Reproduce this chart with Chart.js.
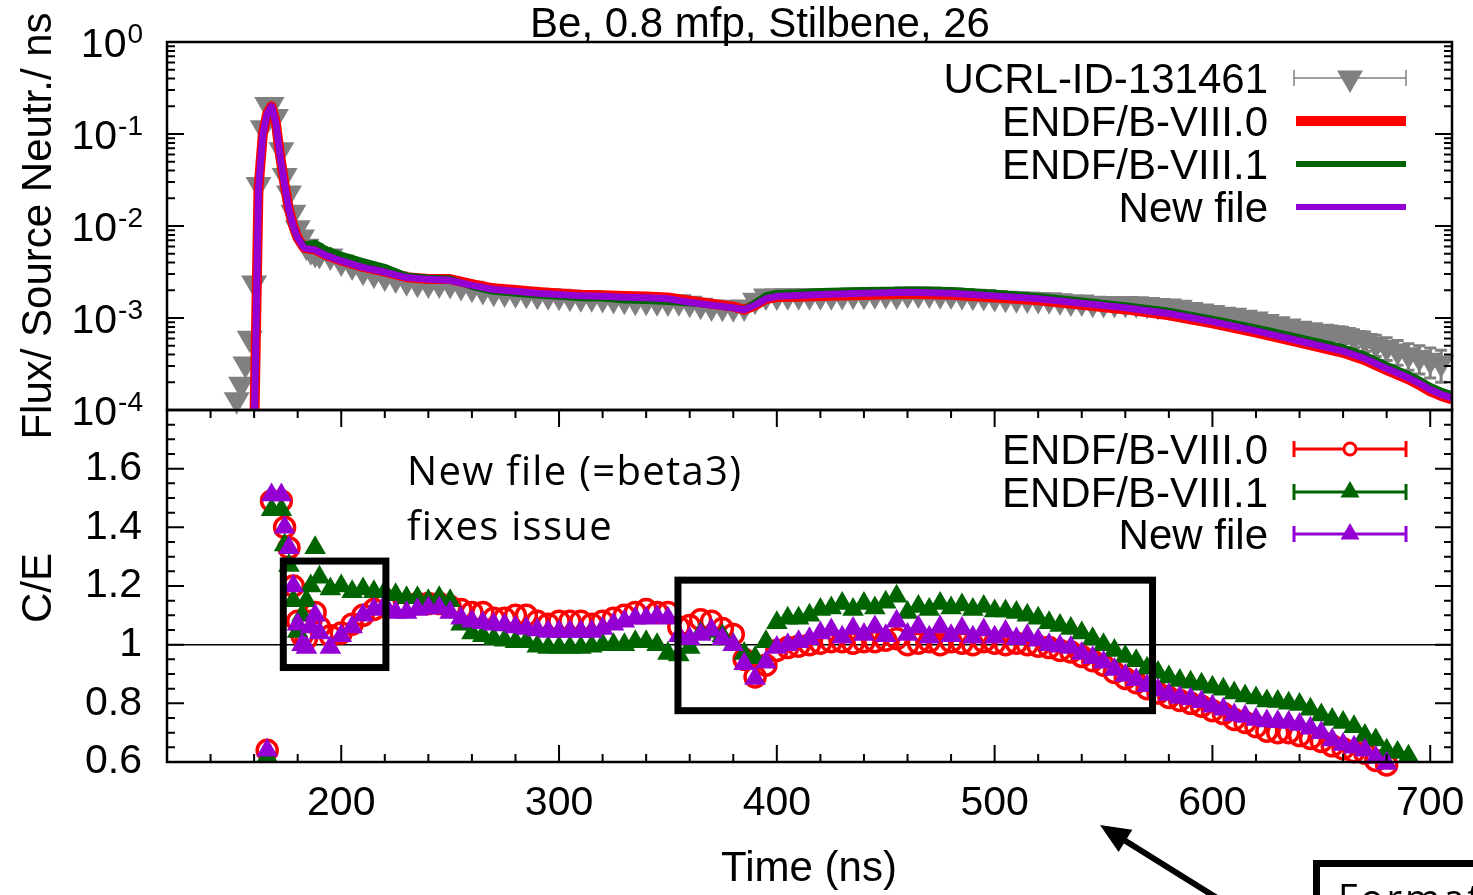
<!DOCTYPE html>
<html>
<head>
<meta charset="utf-8">
<title>Be, 0.8 mfp, Stilbene, 26</title>
<script src="https://cdn.jsdelivr.net/npm/chart.js@4.4.1/dist/chart.umd.min.js"></script>
<style>
  html, body { margin: 0; padding: 0; background: #fff; }
  #page { position: relative; width: 1473px; height: 895px; overflow: hidden; background: #fff; }
  #fluxBox { position: absolute; left: 0; top: 0; width: 1473px; height: 440px; z-index: 2; }
  #ceBox { position: absolute; left: 0; top: 370px; width: 1473px; height: 525px; z-index: 1; }
  .note { position: absolute; z-index: 3; font-family: "Open Sans", Lato, sans-serif; color: #000; white-space: nowrap; }
</style>
</head>
<body>
<div id="page">
  <div id="ceBox"><canvas id="ceChart" width="1473" height="525"></canvas></div>
  <div id="fluxBox"><canvas id="fluxChart" width="1473" height="440"></canvas></div>
  <div class="note" style="left:407px; top:442px; font-size:40px; line-height:55px; letter-spacing:1.3px;">New file (=beta3)<br>fixes issue</div>
  <div class="note" style="left:1338px; top:878px; font-size:38px; line-height:38px; letter-spacing:3px;">Format</div>
</div>
<script>
// time-of-flight bins of the measurement (ns)
const times = [152, 154, 156, 158, 160, 162, 164, 166, 168, 170,
  172.5, 174, 176, 178, 180, 182, 184, 186, 188, 190,
  195, 200, 205, 210, 215, 220, 225, 230, 235, 240,
  245, 250, 255, 260, 265, 270, 275, 280, 285, 290,
  295, 300, 305, 310, 315, 320, 325, 330, 335, 340,
  345, 350, 355, 360, 365, 370, 375, 380, 385, 390,
  395, 400, 405, 410, 415, 420, 425, 430, 435, 440,
  445, 450, 455, 460, 465, 470, 475, 480, 485, 490,
  495, 500, 505, 510, 515, 520, 525, 530, 535, 540,
  545, 550, 555, 560, 565, 570, 575, 580, 585, 590,
  595, 600, 605, 610, 615, 620, 625, 630, 635, 640,
  645, 650, 655, 660, 665, 670, 675, 680, 685, 690,
  695, 700, 705];

// UCRL-ID-131461 measured flux and its relative uncertainty
const expFlux = [1.29e-4, 1.91e-4, 3.16e-4, 6.03e-4, 2.40e-3, 2.82e-2, 1.17e-1, 2.09e-1, 2.09e-1, 1.55e-1,
  6.76e-2, 3.55e-2, 2.29e-2, 1.41e-2, 9.55e-3, 7.59e-3, 6.03e-3, 5.37e-3, 5.01e-3, 4.90e-3,
  4.72e-3, 4.05e-3, 3.67e-3, 3.23e-3, 2.99e-3, 2.79e-3, 2.66e-3, 2.48e-3, 2.38e-3, 2.34e-3,
  2.34e-3, 2.32e-3, 2.20e-3, 2.10e-3, 1.99e-3, 1.91e-3, 1.87e-3, 1.84e-3, 1.81e-3, 1.77e-3,
  1.74e-3, 1.72e-3, 1.68e-3, 1.66e-3, 1.66e-3, 1.63e-3, 1.59e-3, 1.56e-3, 1.52e-3, 1.52e-3,
  1.50e-3, 1.49e-3, 1.50e-3, 1.45e-3, 1.38e-3, 1.32e-3, 1.31e-3, 1.29e-3, 1.32e-3, 1.56e-3,
  1.73e-3, 1.73e-3, 1.74e-3, 1.74e-3, 1.75e-3, 1.75e-3, 1.75e-3, 1.76e-3, 1.78e-3, 1.77e-3,
  1.79e-3, 1.80e-3, 1.77e-3, 1.82e-3, 1.82e-3, 1.82e-3, 1.79e-3, 1.78e-3, 1.76e-3, 1.72e-3,
  1.71e-3, 1.67e-3, 1.64e-3, 1.62e-3, 1.61e-3, 1.59e-3, 1.58e-3, 1.54e-3, 1.49e-3, 1.49e-3,
  1.45e-3, 1.44e-3, 1.44e-3, 1.44e-3, 1.43e-3, 1.40e-3, 1.37e-3, 1.35e-3, 1.31e-3, 1.24e-3,
  1.19e-3, 1.15e-3, 1.10e-3, 1.07e-3, 1.02e-3, 9.73e-4, 9.14e-4, 8.67e-4, 8.20e-4, 7.73e-4,
  7.43e-4, 7.16e-4, 6.93e-4, 6.61e-4, 6.12e-4, 5.68e-4, 5.14e-4, 4.78e-4, 4.37e-4, 3.98e-4,
  3.72e-4, 3.47e-4, 3.24e-4];
const expErr = [0.05, 0.05, 0.05, 0.05, 0.05, 0.05, 0.05, 0.05, 0.05, 0.05,
  0.05, 0.05, 0.05, 0.05, 0.05, 0.05, 0.05, 0.05, 0.05, 0.05,
  0.04, 0.04, 0.04, 0.04, 0.04, 0.04, 0.04, 0.04, 0.04, 0.04,
  0.04, 0.04, 0.04, 0.04, 0.04, 0.04, 0.04, 0.04, 0.04, 0.04,
  0.04, 0.04, 0.04, 0.04, 0.04, 0.04, 0.04, 0.04, 0.04, 0.04,
  0.04, 0.04, 0.04, 0.04, 0.04, 0.04, 0.04, 0.04, 0.04, 0.04,
  0.04, 0.04, 0.04, 0.04, 0.04, 0.04, 0.04, 0.04, 0.04, 0.04,
  0.04, 0.04, 0.04, 0.04, 0.04, 0.04, 0.04, 0.04, 0.04, 0.04,
  0.04, 0.04, 0.04, 0.04, 0.04, 0.04, 0.04, 0.04, 0.04, 0.04,
  0.05, 0.05, 0.05, 0.06, 0.06, 0.06, 0.07, 0.07, 0.07, 0.08,
  0.08, 0.08, 0.09, 0.09, 0.10, 0.10, 0.11, 0.11, 0.12, 0.12,
  0.14, 0.16, 0.18, 0.20, 0.22, 0.24, 0.26, 0.28, 0.30, 0.32,
  0.34, 0.36, 0.38];

// C/E on the same time bins
const ceB80 = [null, null, null, null, null, null, null, 0.64, 1.49, null,
  1.49, 1.40, 1.33, 1.20, 1.08, 1.03, 1.02, 1.08, 1.11, 1.06,
  1.03, 1.04, 1.07, 1.10, 1.12, 1.14, 1.13, 1.13, 1.14, 1.14,
  1.14, 1.13, 1.12, 1.11, 1.11, 1.09, 1.09, 1.10, 1.10, 1.08,
  1.07, 1.08, 1.08, 1.08, 1.07, 1.08, 1.09, 1.10, 1.11, 1.12,
  1.11, 1.11, 1.06, 1.065, 1.085, 1.08, 1.055, 1.035, 0.95, 0.89,
  0.93, 0.98, 0.99, 0.995, 1.0, 1.005, 1.01, 1.01, 1.005, 1.01,
  1.01, 1.015, 1.02, 1.0, 1.005, 1.01, 1.0, 1.01, 1.005, 1.0,
  1.01, 1.005, 1.0, 1.005, 1.0, 0.995, 0.99, 0.98, 0.975, 0.96,
  0.945, 0.93, 0.905, 0.885, 0.87, 0.85, 0.835, 0.82, 0.81, 0.80,
  0.79, 0.775, 0.765, 0.745, 0.735, 0.72, 0.705, 0.70, 0.70, 0.69,
  0.68, 0.67, 0.655, 0.645, 0.635, 0.63, 0.605, 0.59, null, null,
  null, null, null];
const ceB81 = [null, null, null, null, null, null, null, 0.62, 1.46, null,
  1.46, 1.34, 1.27, 1.15, 1.045, 1.10, 1.15, 1.20, 1.33, 1.23,
  1.19, 1.20, 1.18, 1.19, 1.18, 1.18, 1.17, 1.16, 1.16, 1.15,
  1.16, 1.15, 1.07, 1.04, 1.03, 1.02, 1.015, 1.01, 1.01, 0.995,
  0.99, 0.99, 0.99, 0.99, 0.995, 1.0, 1.0, 1.0, 1.01, 1.01,
  1.0, 0.97, 0.965, 0.99, 1.04, 1.045, 1.03, 1.0, 0.97, 0.955,
  1.01, 1.075, 1.09, 1.09, 1.10, 1.12, 1.125, 1.14, 1.12, 1.14,
  1.125, 1.145, 1.165, 1.11, 1.13, 1.12, 1.14, 1.125, 1.135, 1.12,
  1.13, 1.115, 1.115, 1.11, 1.10, 1.09, 1.075, 1.065, 1.055, 1.04,
  1.02, 1.0, 0.98, 0.96, 0.945, 0.92, 0.905, 0.89, 0.878, 0.872,
  0.865, 0.855, 0.848, 0.835, 0.825, 0.818, 0.808, 0.806, 0.80, 0.796,
  0.78, 0.76, 0.745, 0.735, 0.72, 0.69, 0.675, 0.64, 0.632, 0.62,
  null, null, null];
const ceNew = [null, null, null, null, null, null, null, 0.64, 1.51, null,
  1.51, 1.40, 1.33, 1.20, 1.07, 1.00, 0.99, 1.06, 1.10, 1.04,
  0.99, 1.03, 1.06, 1.10, 1.12, 1.135, 1.11, 1.11, 1.12, 1.125,
  1.125, 1.11, 1.09, 1.08, 1.075, 1.07, 1.067, 1.06, 1.055, 1.05,
  1.045, 1.045, 1.045, 1.045, 1.045, 1.055, 1.07, 1.08, 1.09, 1.09,
  1.095, 1.09, 1.03, 1.02, 1.035, 1.05, 1.02, 1.0, 0.935, 0.885,
  0.94, 0.99, 1.0, 1.01, 1.02, 1.04, 1.05, 1.025, 1.055, 1.035,
  1.06, 1.03, 1.08, 1.035, 1.06, 1.025, 1.06, 1.03, 1.055, 1.025,
  1.05, 1.025, 1.045, 1.02, 1.03, 1.015, 1.0, 0.995, 0.99, 0.97,
  0.955, 0.94, 0.915, 0.895, 0.88, 0.86, 0.845, 0.83, 0.82, 0.815,
  0.805, 0.79, 0.78, 0.76, 0.755, 0.745, 0.74, 0.737, 0.735, 0.728,
  0.715, 0.70, 0.675, 0.66, 0.65, 0.64, 0.615, 0.595, null, null,
  null, null, null];

// calculated flux curves
const modelTimes = [158, 160, 162, 164, 166, 168, 170, 172, 174, 176,
  178, 180, 183, 188, 193, 200, 210, 220, 230, 240,
  250, 260, 270, 280, 290, 300, 310, 320, 330, 340,
  350, 360, 370, 380, 385, 390, 395, 400, 410, 420,
  440, 460, 480, 500, 520, 540, 560, 580, 600, 620,
  640, 660, 670, 680, 690, 695, 700, 705, 710];
const fluxB80 = [1.0e-6, 5.0e-5, 2.51e-2, 1.0e-1, 1.66e-1, 2.0e-1, 1.32e-1, 5.62e-2, 2.82e-2, 1.51e-2,
  1.0e-2, 7.41e-3, 5.75e-3, 5.55e-3, 4.84e-3, 4.21e-3, 3.59e-3, 3.19e-3, 2.78e-3, 2.66e-3,
  2.65e-3, 2.33e-3, 2.10e-3, 2.01e-3, 1.92e-3, 1.85e-3, 1.79e-3, 1.77e-3, 1.73e-3, 1.71e-3,
  1.67e-3, 1.54e-3, 1.43e-3, 1.33e-3, 1.23e-3, 1.37e-3, 1.61e-3, 1.69e-3, 1.70e-3, 1.73e-3,
  1.78e-3, 1.83e-3, 1.79e-3, 1.67e-3, 1.56e-3, 1.39e-3, 1.24e-3, 1.07e-3, 8.75e-4, 6.95e-4,
  5.40e-4, 4.19e-4, 3.48e-4, 2.71e-4, 2.15e-4, 1.87e-4, 1.59e-4, 1.42e-4, 1.30e-4];
const fluxB81 = [1.0e-6, 4.8e-5, 2.43e-2, 9.7e-2, 1.61e-1, 1.94e-1, 1.28e-1, 5.45e-2, 2.71e-2, 1.44e-2,
  9.6e-3, 7.26e-3, 6.3e-3, 6.6e-3, 5.6e-3, 4.88e-3, 4.15e-3, 3.6e-3, 2.89e-3, 2.74e-3,
  2.69e-3, 2.17e-3, 1.93e-3, 1.84e-3, 1.76e-3, 1.70e-3, 1.64e-3, 1.63e-3, 1.55e-3, 1.53e-3,
  1.49e-3, 1.44e-3, 1.38e-3, 1.29e-3, 1.25e-3, 1.48e-3, 1.77e-3, 1.87e-3, 1.90e-3, 1.96e-3,
  2.01e-3, 2.04e-3, 2.01e-3, 1.88e-3, 1.73e-3, 1.55e-3, 1.38e-3, 1.20e-3, 9.85e-4, 7.89e-4,
  6.18e-4, 4.81e-4, 3.99e-4, 3.10e-4, 2.46e-4, 2.15e-4, 1.83e-4, 1.63e-4, 1.49e-4];
const fluxNew = [1.0e-6, 5.0e-5, 2.51e-2, 1.0e-1, 1.66e-1, 2.0e-1, 1.32e-1, 5.62e-2, 2.82e-2, 1.51e-2,
  1.0e-2, 7.41e-3, 5.75e-3, 5.50e-3, 4.79e-3, 4.17e-3, 3.55e-3, 3.16e-3, 2.75e-3, 2.63e-3,
  2.57e-3, 2.26e-3, 2.04e-3, 1.95e-3, 1.86e-3, 1.80e-3, 1.74e-3, 1.72e-3, 1.68e-3, 1.66e-3,
  1.62e-3, 1.48e-3, 1.38e-3, 1.29e-3, 1.23e-3, 1.38e-3, 1.62e-3, 1.72e-3, 1.76e-3, 1.80e-3,
  1.86e-3, 1.91e-3, 1.86e-3, 1.74e-3, 1.62e-3, 1.45e-3, 1.29e-3, 1.12e-3, 9.12e-4, 7.24e-4,
  5.62e-4, 4.37e-4, 3.63e-4, 2.82e-4, 2.24e-4, 1.95e-4, 1.66e-4, 1.48e-4, 1.35e-4];

const seriesNames = ['UCRL-ID-131461', 'ENDF/B-VIII.0', 'ENDF/B-VIII.1', 'New file'];
const fluxTicks = [1, 1e-1, 1e-2, 1e-3, 1e-4];
const fluxTickExp = ['0', '-1', '-2', '-3', '-4'];
const ceTicks = [0.6, 0.8, 1, 1.2, 1.4, 1.6];
const timeTicks = [200, 300, 400, 500, 600, 700];

const RED = '#ff0000', GREEN = '#006400', PURPLE = '#9400d3', GRAY = '#808080';
const FONT = '"Liberation Sans", Arial, Helvetica, sans-serif';
Chart.defaults.font.family = FONT;
Chart.defaults.color = '#000';

// highlighted regions (ns, C/E)
const boxes = [[173.4, 220.5, 1.285, 0.922], [354.6, 572.5, 1.22, 0.775]];

function pts(xs, ys) {
  return xs.map((x, i) => ({ x: x, y: ys[i] }));
}

function tri(ctx, cx, cy, r, down) {
  const s = down ? -1 : 1;
  ctx.beginPath();
  ctx.moveTo(cx, cy - s * r);
  ctx.lineTo(cx + 0.866 * r, cy + s * 0.5 * r);
  ctx.lineTo(cx - 0.866 * r, cy + s * 0.5 * r);
  ctx.closePath();
  ctx.fill();
}

function errSample(ctx, y, color, lw) {
  ctx.strokeStyle = color;
  ctx.lineWidth = lw;
  ctx.beginPath();
  ctx.moveTo(1294, y); ctx.lineTo(1406, y);
  ctx.moveTo(1294, y - 8); ctx.lineTo(1294, y + 8);
  ctx.moveTo(1406, y - 8); ctx.lineTo(1406, y + 8);
  ctx.stroke();
}

// fixed axis boxes so both panels line up
function fixY(s) {
  s.width = 167;
  s.paddingTop = 0;
  s.paddingBottom = 0;
}

// gnuplot style decoration of the flux panel
const fluxDecor = {
  id: 'fluxDecor',
  beforeDatasetsDraw(chart) {
    const { ctx, scales: { x, y } } = chart;
    ctx.save();
    ctx.strokeStyle = GRAY;
    ctx.lineWidth = 3;
    ctx.beginPath();
    times.forEach((t, i) => {
      const px = x.getPixelForValue(t);
      const hi = y.getPixelForValue(expFlux[i] * (1 + expErr[i]));
      const lo = y.getPixelForValue(expFlux[i] * (1 - expErr[i]));
      ctx.moveTo(px, hi); ctx.lineTo(px, lo);
      ctx.moveTo(px - 6, hi); ctx.lineTo(px + 6, hi);
      ctx.moveTo(px - 6, lo); ctx.lineTo(px + 6, lo);
    });
    ctx.stroke();
    ctx.restore();
  },
  afterDraw(chart) {
    const { ctx, chartArea: a, scales: { y } } = chart;
    ctx.save();
    ctx.strokeStyle = '#000';
    ctx.lineWidth = 2;
    ctx.beginPath();
    fluxTicks.forEach(d => {
      for (let k = 1; k <= 9; k++) {
        if (d * k > 1.0001) break;
        const py = y.getPixelForValue(d * k);
        const len = k === 1 ? 17 : 8;
        ctx.moveTo(a.left, py); ctx.lineTo(a.left + len, py);
        ctx.moveTo(a.right, py); ctx.lineTo(a.right - len, py);
      }
    });
    ctx.stroke();
    ctx.lineWidth = 2.5;
    ctx.strokeRect(a.left, a.top, a.right - a.left, a.bottom - a.top);

    // 10^n labels
    ctx.fillStyle = '#000';
    ctx.textAlign = 'right';
    ctx.textBaseline = 'alphabetic';
    fluxTicks.forEach((v, i) => {
      const py = y.getPixelForValue(v);
      ctx.font = '28px ' + FONT;
      ctx.fillText(fluxTickExp[i], 143, py + 1);
      const w = ctx.measureText(fluxTickExp[i]).width;
      ctx.font = '41px ' + FONT;
      ctx.fillText('10', 142 - w, py + 15);
    });

    // titles
    ctx.font = '42px ' + FONT;
    ctx.textAlign = 'center';
    ctx.fillText('Be, 0.8 mfp, Stilbene, 26', 760, 37);
    ctx.save();
    ctx.translate(51, 226);
    ctx.rotate(-Math.PI / 2);
    ctx.fillText('Flux/ Source Neutr./ ns', 0, 0);
    ctx.restore();

    // key
    ctx.textAlign = 'right';
    const rows = [78, 121, 164, 207];
    seriesNames.forEach((name, i) => {
      ctx.fillStyle = '#000';
      ctx.fillText(name, 1268, rows[i] + 15);
    });
    errSample(ctx, rows[0], GRAY, 1.5);
    ctx.fillStyle = GRAY;
    tri(ctx, 1350, rows[0], 15, true);
    [[RED, 10], [GREEN, 6], [PURPLE, 6]].forEach((s, i) => {
      ctx.strokeStyle = s[0];
      ctx.lineWidth = s[1];
      ctx.beginPath();
      ctx.moveTo(1296, rows[i + 1]); ctx.lineTo(1406, rows[i + 1]);
      ctx.stroke();
    });
    ctx.restore();
  }
};

// gnuplot style decoration of the C/E panel
const ceDecor = {
  id: 'ceDecor',
  beforeDatasetsDraw(chart) {
    const { ctx, chartArea: a, scales: { y } } = chart;
    const py = y.getPixelForValue(1);
    ctx.save();
    ctx.strokeStyle = '#000';
    ctx.lineWidth = 1.5;
    ctx.beginPath();
    ctx.moveTo(a.left, py); ctx.lineTo(a.right, py);
    ctx.stroke();
    ctx.restore();
  },
  afterDraw(chart) {
    const { ctx, chartArea: a, scales: { x, y } } = chart;
    ctx.save();
    ctx.strokeStyle = '#000';
    ctx.lineWidth = 2;
    ctx.beginPath();
    for (let k = 12; k <= 36; k++) {
      const py = y.getPixelForValue(k * 0.05);
      const len = k % 4 === 0 ? 17 : 8;
      ctx.moveTo(a.left, py); ctx.lineTo(a.left + len, py);
      ctx.moveTo(a.right, py); ctx.lineTo(a.right - len, py);
    }
    for (let t = 140; t <= 700; t += 20) {
      const px = x.getPixelForValue(t);
      const len = t % 100 === 0 ? 17 : 8;
      ctx.moveTo(px, a.top); ctx.lineTo(px, a.top + len);
      ctx.moveTo(px, a.bottom); ctx.lineTo(px, a.bottom - len);
    }
    ctx.stroke();
    ctx.lineWidth = 2.5;
    ctx.strokeRect(a.left, a.top, a.right - a.left, a.bottom - a.top);

    // titles
    ctx.fillStyle = '#000';
    ctx.font = '42px ' + FONT;
    ctx.textAlign = 'center';
    ctx.textBaseline = 'alphabetic';
    ctx.fillText('Time (ns)', 809, 511);
    ctx.save();
    ctx.translate(51, 218);
    ctx.rotate(-Math.PI / 2);
    ctx.fillText('C/E', 0, 0);
    ctx.restore();

    // key
    ctx.textAlign = 'right';
    const rows = [79, 122, 164];
    seriesNames.slice(1).forEach((name, i) => {
      ctx.fillStyle = '#000';
      ctx.fillText(name, 1268, rows[i] + 15);
    });
    errSample(ctx, rows[0], RED, 3);
    ctx.fillStyle = '#fff';
    ctx.beginPath(); ctx.arc(1350, rows[0], 6, 0, Math.PI * 2); ctx.fill(); ctx.stroke();
    errSample(ctx, rows[1], GREEN, 3);
    ctx.fillStyle = GREEN;
    tri(ctx, 1350, rows[1], 11, false);
    errSample(ctx, rows[2], PURPLE, 3);
    ctx.fillStyle = PURPLE;
    tri(ctx, 1350, rows[2], 11, false);

    // highlight boxes
    ctx.strokeStyle = '#000';
    ctx.lineWidth = 7;
    ctx.lineJoin = 'miter';
    boxes.forEach(b => {
      const x0 = x.getPixelForValue(b[0]), x1 = x.getPixelForValue(b[1]);
      const y0 = y.getPixelForValue(b[2]), y1 = y.getPixelForValue(b[3]);
      ctx.strokeRect(x0, y0, x1 - x0, y1 - y0);
    });

    // arrow and call-out frame below the plot
    const tx = 1217, ty = 528, hx = 1100, hy = 455;
    const len = Math.hypot(tx - hx, ty - hy), ux = (tx - hx) / len, uy = (ty - hy) / len;
    ctx.lineWidth = 6;
    ctx.beginPath();
    ctx.moveTo(tx, ty); ctx.lineTo(hx + ux * 24, hy + uy * 24);
    ctx.stroke();
    ctx.fillStyle = '#000';
    ctx.beginPath();
    ctx.moveTo(hx, hy);
    ctx.lineTo(hx + ux * 30 - uy * 13, hy + uy * 30 + ux * 13);
    ctx.lineTo(hx + ux * 30 + uy * 13, hy + uy * 30 - ux * 13);
    ctx.closePath();
    ctx.fill();
    ctx.lineWidth = 7;
    ctx.strokeRect(1316.5, 493.5, 300, 200);
    ctx.restore();
  }
};

const common = {
  responsive: false,
  animation: false,
  events: [],
  plugins: { legend: { display: false }, tooltip: { enabled: false } }
};

new Chart(document.getElementById('fluxChart'), {
  type: 'scatter',
  data: {
    datasets: [
      { label: seriesNames[3], data: pts(modelTimes, fluxNew), showLine: true, borderColor: PURPLE, borderWidth: 7,
        pointRadius: 0, borderJoinStyle: 'round', clip: 0, order: 0 },
      { label: seriesNames[2], data: pts(modelTimes, fluxB81), showLine: true, borderColor: GREEN, borderWidth: 6,
        pointRadius: 0, borderJoinStyle: 'round', clip: 0, order: 1 },
      { label: seriesNames[1], data: pts(modelTimes, fluxB80), showLine: true, borderColor: RED, borderWidth: 10,
        pointRadius: 0, borderJoinStyle: 'round', clip: 0, order: 2 },
      { label: seriesNames[0], data: pts(times, expFlux), showLine: false, pointStyle: 'triangle', pointRotation: 180,
        pointRadius: 15, pointBackgroundColor: GRAY, pointBorderColor: GRAY, pointBorderWidth: 0, clip: false, order: 3 }
    ]
  },
  options: Object.assign({}, common, {
    layout: { padding: { left: 0, right: 21, top: 42, bottom: 30 } },
    scales: {
      x: { type: 'linear', min: 120, max: 710, display: false },
      y: {
        type: 'logarithmic', min: 1e-4, max: 1,
        afterFit: fixY,
        grid: { display: false, drawTicks: false },
        border: { display: false },
        ticks: { callback: () => '' }
      }
    }
  }),
  plugins: [fluxDecor]
});

new Chart(document.getElementById('ceChart'), {
  type: 'scatter',
  data: {
    datasets: [
      { label: seriesNames[3], data: pts(times, ceNew), pointStyle: 'triangle', pointRadius: 12.5,
        pointBackgroundColor: PURPLE, pointBorderColor: PURPLE, pointBorderWidth: 0, clip: false, order: 0 },
      { label: seriesNames[2], data: pts(times, ceB81), pointStyle: 'triangle', pointRadius: 12.5,
        pointBackgroundColor: GREEN, pointBorderColor: GREEN, pointBorderWidth: 0, clip: false, order: 1 },
      { label: seriesNames[1], data: pts(times, ceB80), pointStyle: 'circle', pointRadius: 10,
        pointBackgroundColor: 'rgba(0,0,0,0)', pointBorderColor: RED, pointBorderWidth: 3.5, clip: false, order: 2 }
    ]
  },
  options: Object.assign({}, common, {
    layout: { padding: { left: 0, right: 21, top: 40, bottom: 0 } },
    scales: {
      x: {
        type: 'linear', min: 120, max: 710, position: 'bottom',
        afterBuildTicks: s => { s.ticks = timeTicks.map(v => ({ value: v })); },
        afterFit: s => { s.height = 133; s.paddingLeft = 0; s.paddingRight = 0; },
        grid: { display: false, drawTicks: false },
        border: { display: false },
        ticks: {
          autoSkip: false, maxRotation: 0, padding: 17,
          font: { size: 41 }, color: '#000',
          callback: v => String(v)
        }
      },
      y: {
        min: 0.6, max: 1.8,
        afterBuildTicks: s => { s.ticks = ceTicks.map(v => ({ value: v })); },
        afterFit: fixY,
        grid: { display: false, drawTicks: false },
        border: { display: false },
        ticks: {
          padding: 25, font: { size: 41 }, color: '#000',
          callback: v => String(v)
        }
      }
    }
  }),
  plugins: [ceDecor]
});
</script>
</body>
</html>
